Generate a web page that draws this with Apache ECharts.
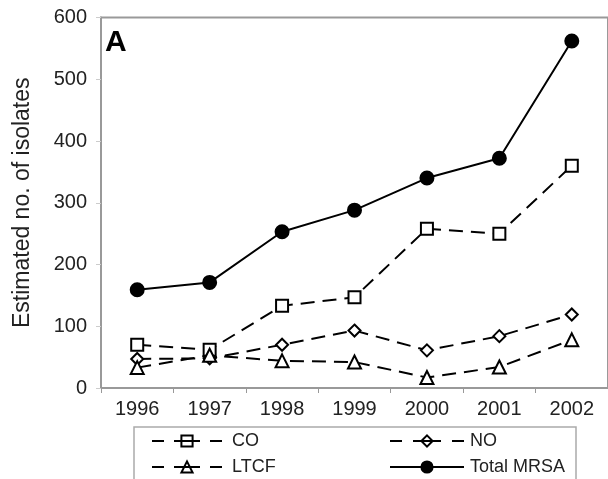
<!DOCTYPE html>
<html>
<head>
<meta charset="utf-8">
<script src="https://cdn.jsdelivr.net/npm/echarts@6/dist/echarts.min.js"></script>
<style>
html,body{margin:0;padding:0;background:#fff;}
#main{width:608px;height:479px;}
</style>
</head>
<body>
<div id="main"></div>
<script>
var years = ['1996','1997','1998','1999','2000','2001','2002'];
var coValues = [70, 62, 133, 147, 258, 250, 360];
var noValues = [47, 48, 70, 93, 61, 84, 119];
var ltcfValues = [33, 53, 44, 42, 17, 34, 78];
var totalValues = [159, 171, 253, 288, 340, 372, 562];
var yTicks = {min: 0, max: 600, interval: 100};

var FONT = 'Liberation Sans, Arial, sans-serif';
var dash = [14, 8];

var chart = echarts.init(document.getElementById('main'), null, {renderer: 'canvas'});

function lineSeries(name, data, symbol, dashed, size) {
  return {
    name: name,
    type: 'line',
    data: data,
    symbol: symbol,
    symbolSize: size,
    showAllSymbol: true,
    itemStyle: {color: dashed ? '#fff' : '#000', borderColor: '#000', borderWidth: 2},
    lineStyle: {color: '#000', width: 2, type: dashed ? dash : 'solid'},
    emphasis: {disabled: true},
    animation: false,
    z: dashed ? 2 : 3
  };
}

var legendText = {color: '#222', fontSize: 18, fontFamily: FONT, lineHeight: 14};
var openMark = {color: 'transparent', borderColor: '#000', borderWidth: 2};

chart.setOption({
  backgroundColor: '#fff',
  animation: false,
  grid: {
    left: 101, top: 17.5, right: -4, bottom: 91,
    show: true, borderColor: '#999', borderWidth: 2, backgroundColor: 'transparent'
  },
  xAxis: {
    type: 'category',
    data: years,
    boundaryGap: true,
    axisLine: {lineStyle: {color: '#999', width: 2}},
    axisTick: {show: true, length: 5, lineStyle: {color: '#999', width: 1}},
    axisLabel: {color: '#222', fontSize: 20, fontFamily: FONT, margin: 11},
    splitLine: {show: false}
  },
  yAxis: {
    type: 'value',
    min: yTicks.min, max: yTicks.max, interval: yTicks.interval,
    name: 'Estimated no. of isolates',
    nameLocation: 'middle',
    nameGap: 67,
    nameTextStyle: {color: '#222', fontSize: 23, fontFamily: FONT},
    axisLine: {show: true, lineStyle: {color: '#999', width: 2}},
    axisTick: {show: true, length: 5, lineStyle: {color: '#ccc', width: 1}},
    axisLabel: {color: '#222', fontSize: 20, fontFamily: FONT, margin: 14},
    splitLine: {show: false}
  },
  legend: [
    {
      data: [
        {name: 'CO', itemStyle: openMark},
        {name: 'LTCF', itemStyle: openMark}
      ],
      orient: 'vertical',
      left: 146, top: 427, height: 120,
      itemWidth: 70, itemHeight: 14, itemGap: 8,
      lineStyle: {type: [12, 10, 26, 10, 12], width: 2, color: '#000'},
      textStyle: Object.assign({padding: [0, 0, 0, 5]}, legendText),
      selectedMode: false
    },
    {
      data: [
        {name: 'NO', itemStyle: openMark, lineStyle: {type: [12, 11, 28, 11, 12], width: 2, color: '#000'}},
        'Total MRSA'
      ],
      orient: 'vertical',
      left: 384, top: 427, height: 120,
      itemWidth: 74, itemHeight: 14, itemGap: 8,
      textStyle: Object.assign({padding: [0, 0, 0, 1]}, legendText),
      selectedMode: false
    }
  ],
  graphic: [
    {
      type: 'rect',
      shape: {x: 134, y: 427, width: 442, height: 70},
      style: {fill: 'transparent', stroke: '#aaa', lineWidth: 1.5},
      z: -1
    },
    {
      type: 'text',
      left: 105, top: 28,
      style: {text: 'A', font: 'bold 30px ' + FONT, fill: '#000'}
    }
  ],
  series: [
    lineSeries('CO', coValues, 'rect', true, 12),
    lineSeries('NO', noValues, 'diamond', true, 12),
    lineSeries('LTCF', ltcfValues, 'triangle', true, 13),
    lineSeries('Total MRSA', totalValues, 'circle', false, 13)
  ]
});
</script>
</body>
</html>
